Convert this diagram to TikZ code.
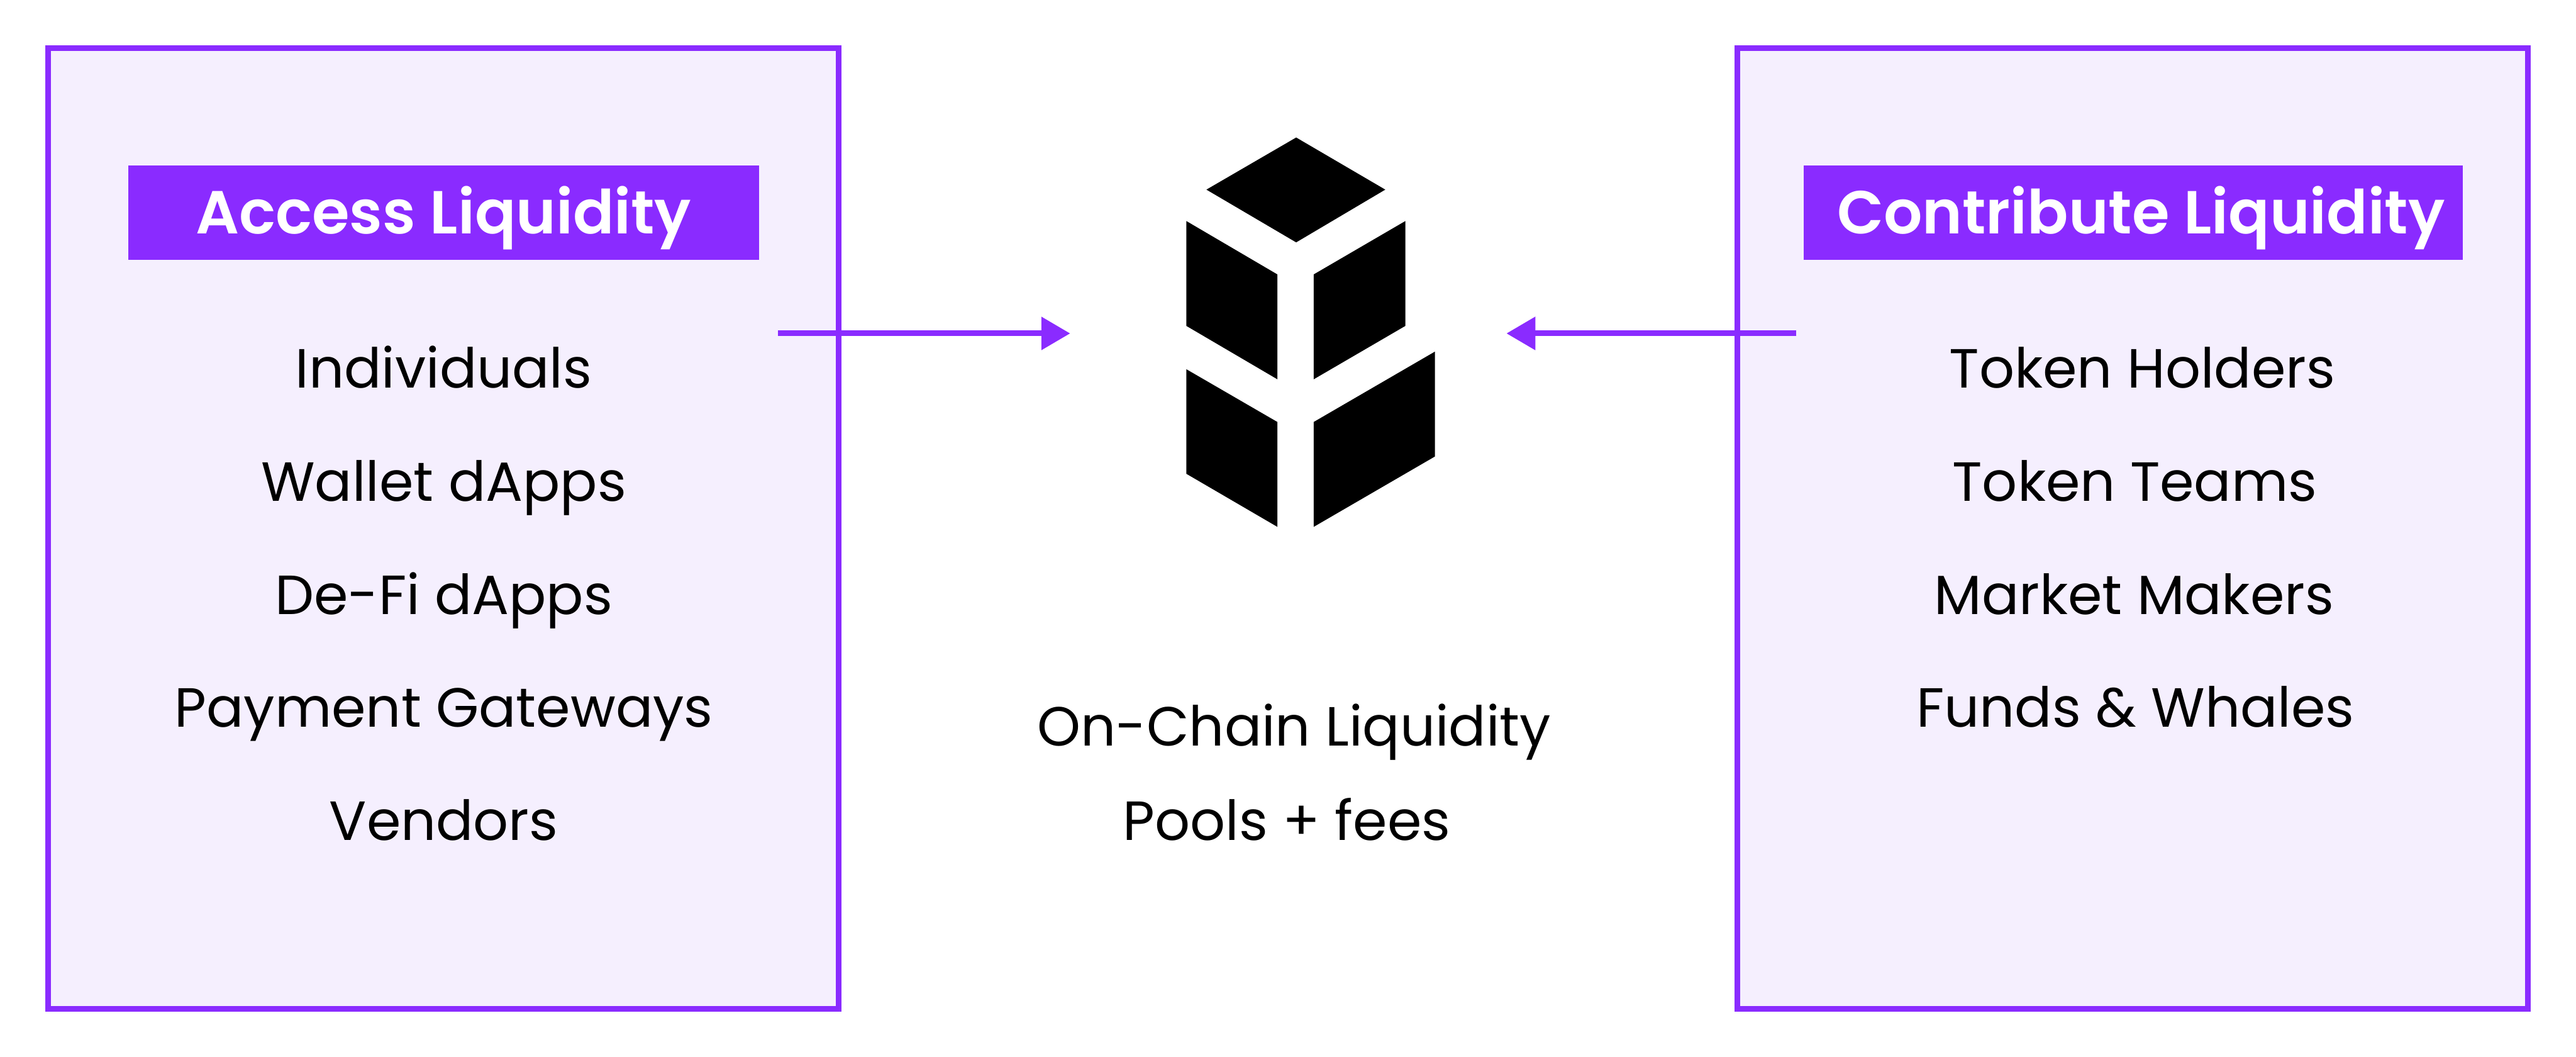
\documentclass[tikz,border=0pt]{standalone}
\usepackage{fontspec}
\setmainfont{Poppins}
\newfontfamily\tagfont{Poppins SemiBold}
\usetikzlibrary{arrows.meta}
\definecolor{bpurple}{HTML}{8A2BFF}
\definecolor{bpale}{HTML}{F5EFFE}
\tikzset{
    panel/.style={draw=bpurple,fill=bpale,line width=0.9mm},
    tag/.style={fill=bpurple,text=white,inner sep=0pt,anchor=base,text height=1.08cm,text depth=0.42cm,font=\fontsize{27.5}{32}\tagfont},
    item/.style={inner sep=0pt,anchor=base,font=\fontsize{25}{30}\selectfont},
    flow/.style={draw=bpurple,line width=0.9mm,-{Triangle[length=4.6mm,width=5.1mm]}}
}
\begin{document}
\begin{tikzpicture}
        \useasboundingbox (0,0) rectangle (41.04,16.83);

        \draw[panel] (0.77,0.765) rectangle (13.365,16.065);
        \draw[panel] (27.675,0.765) rectangle (40.275,16.065);

        \node[tag,minimum width=10.05cm] (access) at (7.065,13.11) {Access Liquidity};
        \node[tag,minimum width=10.5cm] (contribute) at (33.99,13.11) {\hspace*{0.24cm}Contribute Liquidity};

        \node[item] (individuals) at (7.07,10.65) {Individuals};
        \node[item] (wallet) at (7.07,8.85) {Wallet dApps};
        \node[item] (defi) at (7.07,7.05) {De-Fi dApps};
        \node[item] (payment) at (7.07,5.25) {Payment Gateways};
        \node[item] (vendors) at (7.07,3.45) {Vendors};

        \node[item] (holders) at (34.13,10.65) {Token Holders};
        \node[item] (teams) at (34.01,8.85) {Token Teams};
        \node[item] (makers) at (34.0,7.05) {Market Makers};
        \node[item] (funds) at (34.02,5.25) {Funds \& Whales};

        \node[item] (chain) at (20.62,4.95) {On-Chain Liquidity};
        \node[item] (pools) at (20.50,3.45) {Pools + fees};

        % logo
        \fill (20.65,14.64) -- (22.07,13.81) -- (20.65,12.97) -- (19.22,13.81) -- cycle;
        \fill (18.90,13.31) -- (20.35,12.46) -- (20.35,10.79) -- (18.90,11.64) -- cycle;
        \fill (22.39,13.31) -- (20.93,12.46) -- (20.93,10.79) -- (22.39,11.64) -- cycle;
        \fill (18.90,10.95) -- (20.35,10.11) -- (20.35,8.44) -- (18.90,9.285) -- cycle;
        \fill (22.86,11.23) -- (20.93,10.11) -- (20.93,8.44) -- (22.86,9.56) -- cycle;

        \coordinate (leftstart) at (12.395,11.52);
        \coordinate (lefttip) at (17.05,11.52);
        \coordinate (rightstart) at (28.62,11.52);
        \coordinate (righttip) at (24.00,11.52);

        \draw[flow] (leftstart) -- (lefttip);
        \draw[flow] (rightstart) -- (righttip);

    \end{tikzpicture}
\end{document}
